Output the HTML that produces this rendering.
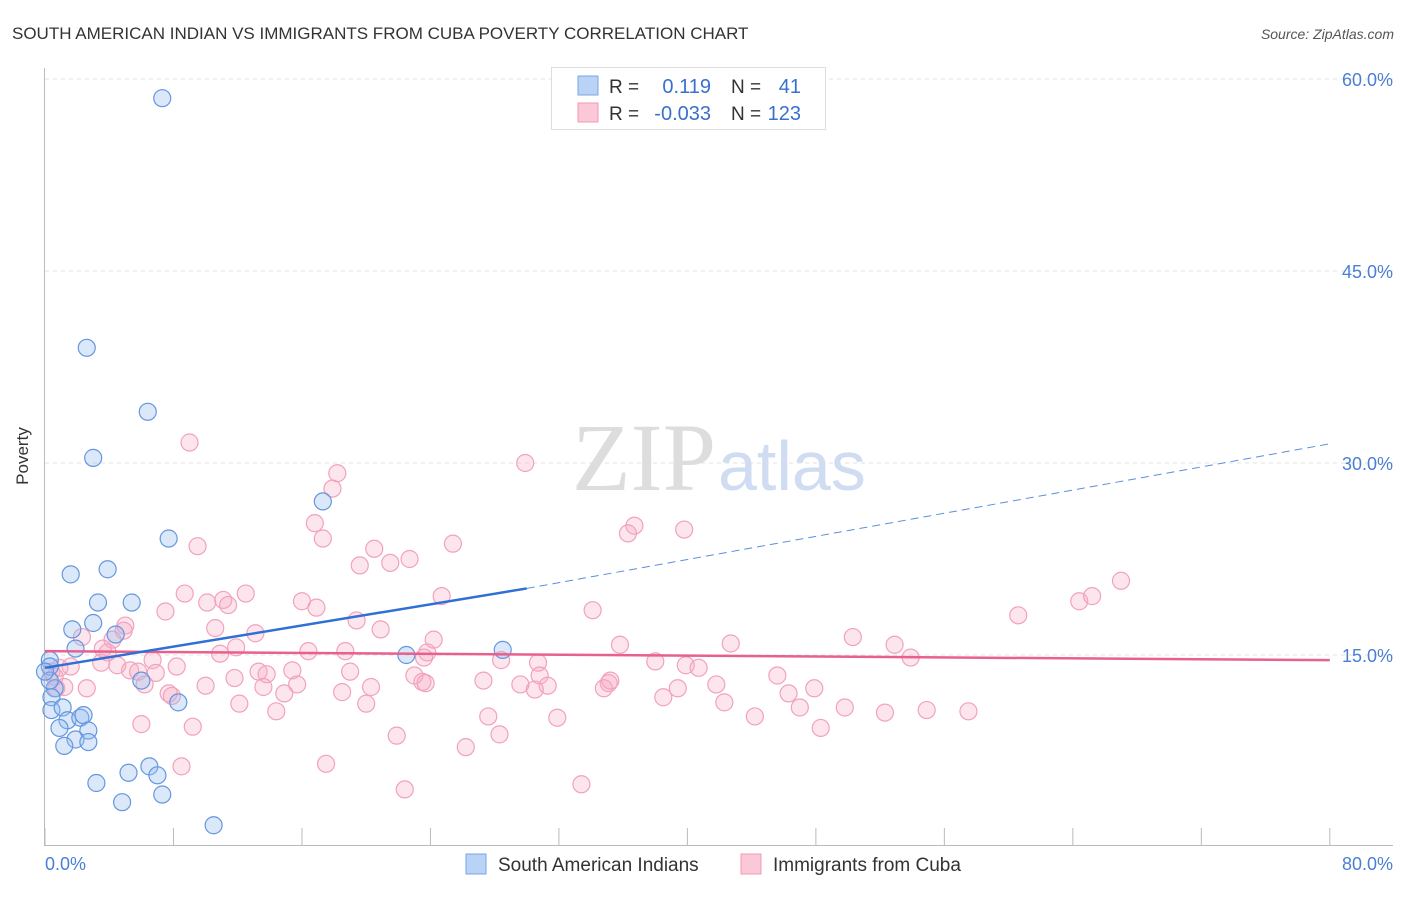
<!DOCTYPE html>
<html><head><meta charset="utf-8"><style>
body{margin:0;background:#fff;font-family:"Liberation Sans",sans-serif}
</style></head><body>
<svg width="1406" height="892" xmlns="http://www.w3.org/2000/svg" style="font-family:'Liberation Sans',sans-serif">
<text x="12" y="39" font-size="17" fill="#333">SOUTH AMERICAN INDIAN VS IMMIGRANTS FROM CUBA POVERTY CORRELATION CHART</text>
<text x="1394" y="39" font-size="14" fill="#555" font-style="italic" text-anchor="end">Source: ZipAtlas.com</text>
<g id="grid"></g>
<text x="716" y="490" font-size="96" font-family="'Liberation Serif',serif" fill="#ddd" text-anchor="end">ZIP</text>
<text x="718" y="490" font-size="70" fill="#cfdcf2">atlas</text>
<g id="axes"></g>
<g id="marks"></g>
<text x="28" y="456" font-size="17" fill="#333" text-anchor="middle" transform="rotate(-90 28 456)">Poverty</text>
<text x="45" y="870" font-size="18" fill="#4a7fd4">0.0%</text>
<text x="1393" y="870" font-size="18" fill="#4a7fd4" text-anchor="end">80.0%</text>
<g>
<rect x="551.5" y="67.5" width="274" height="62" fill="#fff" stroke="#ddd"/>
<rect x="578" y="76" width="20" height="19" fill="#b8d3f5" stroke="#7aa6e4"/>
<rect x="578" y="103" width="20" height="19" fill="#fbc8d8" stroke="#f29ab6"/>
<text x="609" y="93" font-size="19" fill="#333">R =</text>
<text x="711" y="93" font-size="20" fill="#3a70cc" text-anchor="end">0.119</text>
<text x="731" y="93" font-size="19" fill="#333">N =</text>
<text x="801" y="93" font-size="20" fill="#3a70cc" text-anchor="end">41</text>
<text x="609" y="120" font-size="19" fill="#333">R =</text>
<text x="711" y="120" font-size="20" fill="#3a70cc" text-anchor="end">-0.033</text>
<text x="731" y="120" font-size="19" fill="#333">N =</text>
<text x="801" y="120" font-size="20" fill="#3a70cc" text-anchor="end">123</text>
</g>
<g>
<rect x="466" y="854" width="20" height="20" fill="#b8d3f5" stroke="#7aa6e4"/>
<text x="498" y="871" font-size="19" fill="#333">South American Indians</text>
<rect x="741" y="854" width="20" height="20" fill="#fbc8d8" stroke="#f29ab6"/>
<text x="773" y="871" font-size="19" fill="#333">Immigrants from Cuba</text>
</g>
</svg>
<script>
const yTicks=[15,30,45,60];
const yTickLabels=["15.0%","30.0%","45.0%","60.0%"];
const xTicks=[0,8,16,24,32,40,48,56,64,72,80];
const blueX=[7.3,2.6,6.4,3.0,17.3,7.7,1.6,3.9,3.3,5.4,1.7,3.0,4.4,1.9,0.3,0.3,0.6,0.4,0.4,1.1,1.4,2.2,2.4,2.7,0.9,1.9,2.7,1.2,6.0,8.3,22.5,28.5,3.2,5.2,6.5,7.0,7.3,4.8,10.5,0.3,0.0];
const blueY=[58.5,39.0,34.0,30.4,27.0,24.1,21.3,21.7,19.1,19.1,17.0,17.5,16.6,15.5,14.6,14.1,12.4,11.7,10.7,10.9,9.9,10.1,10.3,9.1,9.3,8.4,8.2,7.9,13.0,11.3,15.0,15.4,5.0,5.8,6.3,5.6,4.1,3.5,1.7,13.0,13.7];
const pinkX=[9.0,29.9,18.2,17.9,16.8,17.3,36.7,39.8,36.3,9.5,25.4,20.5,22.7,19.6,21.5,67.0,64.4,65.2,8.7,12.5,11.1,10.1,11.4,7.5,16.0,16.9,24.7,34.1,60.6,19.4,20.9,10.6,13.1,5.0,4.9,4.2,3.6,3.9,2.3,24.2,35.8,42.7,50.3,52.9,53.9,11.9,16.4,18.7,23.8,23.6,28.4,30.7,38.0,39.9,40.7,6.7,3.5,4.5,1.6,0.9,0.4,0.6,5.3,5.8,6.9,8.2,10.9,13.3,13.8,15.4,19.0,23.0,23.5,27.3,30.8,35.1,45.6,0.7,1.2,2.6,6.2,7.7,10.0,11.8,13.6,15.7,20.3,23.7,29.6,31.3,30.5,34.8,35.2,41.8,39.4,47.9,7.9,12.1,14.9,18.5,20.0,14.4,27.6,31.9,38.5,42.3,44.2,46.3,47.0,49.8,52.3,54.9,57.5,6.0,9.2,21.9,28.3,26.2,48.3,8.5,17.5,22.4,33.4];
const pinkY=[31.6,30.0,29.2,28.0,25.3,24.1,25.1,24.8,24.5,23.5,23.7,23.3,22.5,22.0,22.2,20.8,19.2,19.6,19.8,19.8,19.3,19.1,18.9,18.4,19.2,18.7,19.6,18.5,18.1,17.7,17.0,17.1,16.7,17.3,16.9,16.2,15.5,15.2,16.4,16.2,15.8,15.9,16.4,15.8,14.8,15.6,15.3,15.3,15.2,14.8,14.6,14.4,14.5,14.2,14.0,14.6,14.4,14.2,14.1,14.0,13.7,13.3,13.8,13.7,13.6,14.1,15.1,13.7,13.5,13.8,13.7,13.4,12.9,13.0,13.4,12.8,13.4,12.4,12.5,12.4,12.7,12.0,12.6,13.2,12.5,12.7,12.5,12.8,12.7,12.6,12.3,12.4,13.0,12.7,12.4,12.4,11.8,11.2,12.0,12.1,11.2,10.6,10.2,10.1,11.7,11.3,10.2,12.0,10.9,10.9,10.5,10.7,10.6,9.6,9.4,8.7,8.8,7.8,9.3,6.3,6.5,4.5,4.9];
const blueTrend=[[0,14.0],[30.0,20.2],[80,31.5]];
const pinkTrend=[[0,15.3],[80,14.6]];
const NS="http://www.w3.org/2000/svg";
const sx=v=>45+v*16.06, sy=v=>847-v*12.8;
function mk(t,a,p){const e=document.createElementNS(NS,t);for(const k in a)e.setAttribute(k,a[k]);p.appendChild(e);return e;}
const grid=document.getElementById('grid'),axes=document.getElementById('axes'),marks=document.getElementById('marks');
yTicks.forEach((v,i)=>{
 const l=mk('line',{x1:45,x2:1393,y1:sy(v),y2:sy(v),stroke:'#e2e2e2','stroke-dasharray':'4,4'},grid);
 
 
 const t=mk('text',{x:1393,y:sy(v)+7,'font-size':18,fill:'#4a7fd4','text-anchor':'end'},axes);
 t.textContent=yTickLabels[i];
 
 
});
const ya=mk('line',{x1:44.5,x2:44.5,y1:68,y2:845,stroke:'#bbb'},axes);


const xa=mk('line',{x1:44,x2:1393,y1:845.5,y2:845.5,stroke:'#bbb'},axes);


xTicks.forEach(v=>{
 const t=mk('line',{x1:sx(v),x2:sx(v),y1:828,y2:845,stroke:'#bbb'},axes);
 
 
});
pinkX.forEach((x,i)=>{
 const c=mk('circle',{cx:sx(x),cy:sy(pinkY[i]),r:8.5,fill:'rgba(248,170,195,0.3)',stroke:'#f2a2bb','stroke-width':1.2},marks);
 
 
});
blueX.forEach((x,i)=>{
 const c=mk('circle',{cx:sx(x),cy:sy(blueY[i]),r:8.5,fill:'rgba(150,190,240,0.35)',stroke:'#6596de','stroke-width':1.2},marks);
 
 
});
const pt=mk('line',{x1:sx(pinkTrend[0][0]),y1:sy(pinkTrend[0][1]),x2:sx(pinkTrend[1][0]),y2:sy(pinkTrend[1][1]),stroke:'#e8608e','stroke-width':2.5},marks);


const bt=mk('line',{x1:sx(blueTrend[0][0]),y1:sy(blueTrend[0][1]),x2:sx(blueTrend[1][0]),y2:sy(blueTrend[1][1]),stroke:'#2f6fd6','stroke-width':2.5},marks);


const bd=mk('line',{x1:sx(blueTrend[1][0]),y1:sy(blueTrend[1][1]),x2:sx(blueTrend[2][0]),y2:sy(blueTrend[2][1]),stroke:'#5b8fdc','stroke-width':1,'stroke-dasharray':'8,5'},marks);


</script>
</body></html>
